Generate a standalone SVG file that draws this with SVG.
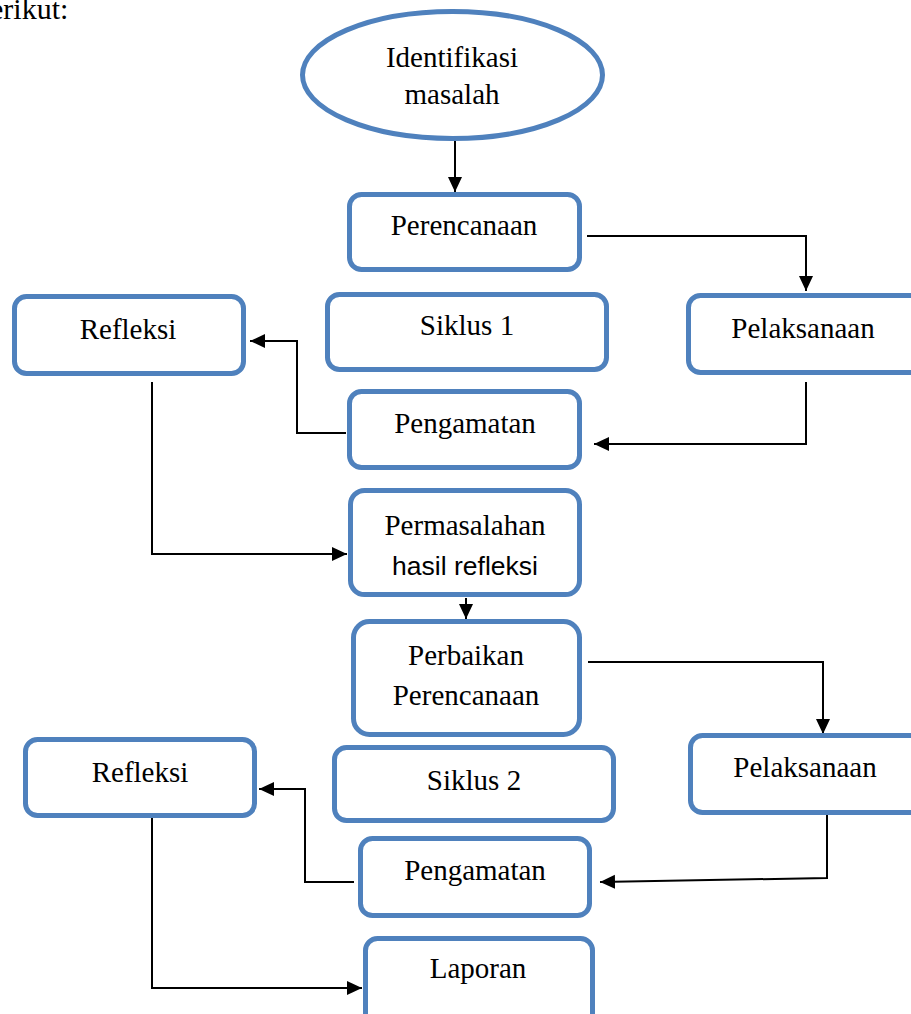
<svg xmlns="http://www.w3.org/2000/svg" width="911" height="1014" viewBox="0 0 911 1014">
<defs>
<marker id="ah" markerUnits="userSpaceOnUse" markerWidth="16" markerHeight="16" viewBox="0 0 16 16" refX="15" refY="8" orient="auto">
<path d="M0,1 L15,8 L0,15 Z" fill="#000"/>
</marker>
<style>
.box{fill:#fff;stroke:#4F81BD;stroke-width:5}
.t{font-family:"Liberation Serif","Times New Roman",serif;font-size:29px;fill:#000;text-anchor:middle}
.s{font-family:"Liberation Sans",Arial,sans-serif;font-size:26.5px;fill:#000;text-anchor:middle}
.c{fill:none;stroke:#000;stroke-width:2;marker-end:url(#ah)}
</style>
</defs>
<rect width="911" height="1014" fill="#fff"/>
<text x="-10" y="19" font-family="'Liberation Serif','Times New Roman',serif" font-size="30" fill="#000">erikut:</text>
<g id="connectors">
<path class="c" d="M455,141 L455,192"/>
<path class="c" d="M587,236 L806,236 L806,291"/>
<path class="c" d="M806,382 L806,444 L594,444"/>
<path class="c" d="M346,433 L297,433 L297,341 L250,341"/>
<path class="c" d="M152,382 L152,554 L347,554"/>
<path class="c" d="M466,598 L466,619"/>
<path class="c" d="M588,662 L823,662 L823,734"/>
<path class="c" d="M827,812 L827,878 L600,882"/>
<path class="c" d="M354,882 L305,882 L305,789 L259,789"/>
<path class="c" d="M152,818 L152,988 L362,988"/>
</g>
<g id="n-identifikasi">
<ellipse class="box" cx="452.5" cy="75" rx="150" ry="63.5"/>
<text class="t" x="452" y="67">Identifikasi</text>
<text class="t" x="452" y="104">masalah</text>
</g>
<g id="n-perencanaan">
<rect class="box" x="349.5" y="194.5" width="230" height="75" rx="12"/>
<text class="t" x="464" y="235">Perencanaan</text>
</g>
<g id="n-siklus1">
<rect class="box" x="327.5" y="294.5" width="279" height="75" rx="12"/>
<text class="t" x="467" y="335">Siklus 1</text>
</g>
<g id="n-pelaksanaan1">
<rect class="box" x="688.5" y="295.5" width="240" height="77" rx="12"/>
<text class="t" x="803" y="338">Pelaksanaan</text>
</g>
<g id="n-refleksi1">
<rect class="box" x="14.5" y="296.5" width="229" height="77" rx="12"/>
<text class="t" x="128" y="339">Refleksi</text>
</g>
<g id="n-pengamatan1">
<rect class="box" x="349.5" y="391.5" width="230" height="76" rx="12"/>
<text class="t" x="465" y="433">Pengamatan</text>
</g>
<g id="n-permasalahan">
<rect class="box" x="350.5" y="490.5" width="229" height="104" rx="14"/>
<text class="t" x="465" y="535">Permasalahan</text>
<text class="s" x="465" y="575">hasil refleksi</text>
</g>
<g id="n-perbaikan">
<rect class="box" x="353.5" y="621.5" width="226" height="113" rx="16"/>
<text class="t" x="466" y="665">Perbaikan</text>
<text class="t" x="466" y="705">Perencanaan</text>
</g>
<g id="n-siklus2">
<rect class="box" x="334.5" y="747.5" width="279" height="73" rx="12"/>
<text class="t" x="474" y="790">Siklus 2</text>
</g>
<g id="n-pelaksanaan2">
<rect class="box" x="690.5" y="735.5" width="240" height="77" rx="12"/>
<text class="t" x="805" y="777">Pelaksanaan</text>
</g>
<g id="n-refleksi2">
<rect class="box" x="25.5" y="739.5" width="229" height="76" rx="12"/>
<text class="t" x="140" y="782">Refleksi</text>
</g>
<g id="n-pengamatan2">
<rect class="box" x="360.5" y="838.5" width="229" height="77" rx="12"/>
<text class="t" x="475" y="880">Pengamatan</text>
</g>
<g id="n-laporan">
<rect class="box" x="365.5" y="938.5" width="227" height="90" rx="12"/>
<text class="t" x="478" y="978">Laporan</text>
</g>
</svg>
